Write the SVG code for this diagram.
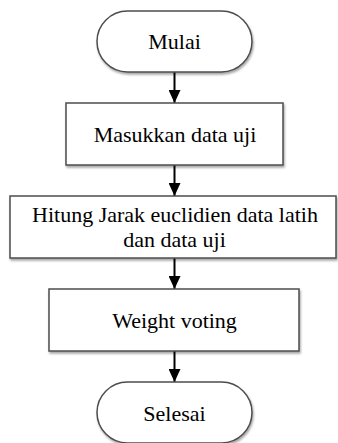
<svg xmlns="http://www.w3.org/2000/svg" width="338" height="443" viewBox="0 0 338 443">
<style>
.shape{fill:#fff;stroke:#4d4d4d;stroke-width:1.5;filter:url(#sh)}
.lbl{font-family:"Liberation Serif","Times New Roman",serif;font-size:22px;fill:#000;text-anchor:middle}
.conn{stroke:#000;stroke-width:2;fill:none;marker-end:url(#arr)}
</style>
<defs>
<filter id="sh" x="-10%" y="-10%" width="120%" height="130%">
<feDropShadow dx="1" dy="2" stdDeviation="1.2" flood-color="#000" flood-opacity="0.35"/>
</filter>
<marker id="arr" markerUnits="userSpaceOnUse" markerWidth="13" markerHeight="12" refX="13" refY="6" orient="auto" viewBox="0 0 13 12">
<path d="M0,0 L13,6 L0,12 Z" fill="#000"/>
</marker>
</defs>
<rect width="338" height="443" fill="#fff"/>
<g id="connectors">
<line class="conn" x1="174.5" y1="72" x2="174.5" y2="103"/>
<line class="conn" x1="174.5" y1="165" x2="174.5" y2="196"/>
<line class="conn" x1="174.5" y1="258" x2="174.5" y2="289"/>
<line class="conn" x1="174.5" y1="351" x2="174.5" y2="382"/>
</g>
<g id="mulai">
<rect class="shape" x="97" y="11" width="155" height="61" rx="30.5" ry="30.5"/>
<text class="lbl" x="174.5" y="48.5">Mulai</text>
</g>
<g id="masukkan">
<rect class="shape" x="66" y="103" width="217" height="62"/>
<text class="lbl" x="175" y="141.7">Masukkan data uji</text>
</g>
<g id="hitung">
<rect class="shape" x="10" y="196" width="326" height="62"/>
<text class="lbl" x="175" y="222">Hitung Jarak euclidien data latih</text>
<text class="lbl" x="174.5" y="246.5">dan data uji</text>
</g>
<g id="weight">
<rect class="shape" x="49" y="289" width="250" height="62"/>
<text class="lbl" x="174.5" y="327.5">Weight voting</text>
</g>
<g id="selesai">
<rect class="shape" x="97" y="382" width="155" height="61" rx="30.5" ry="30.5"/>
<text class="lbl" x="174.5" y="420.7">Selesai</text>
</g>
</svg>
